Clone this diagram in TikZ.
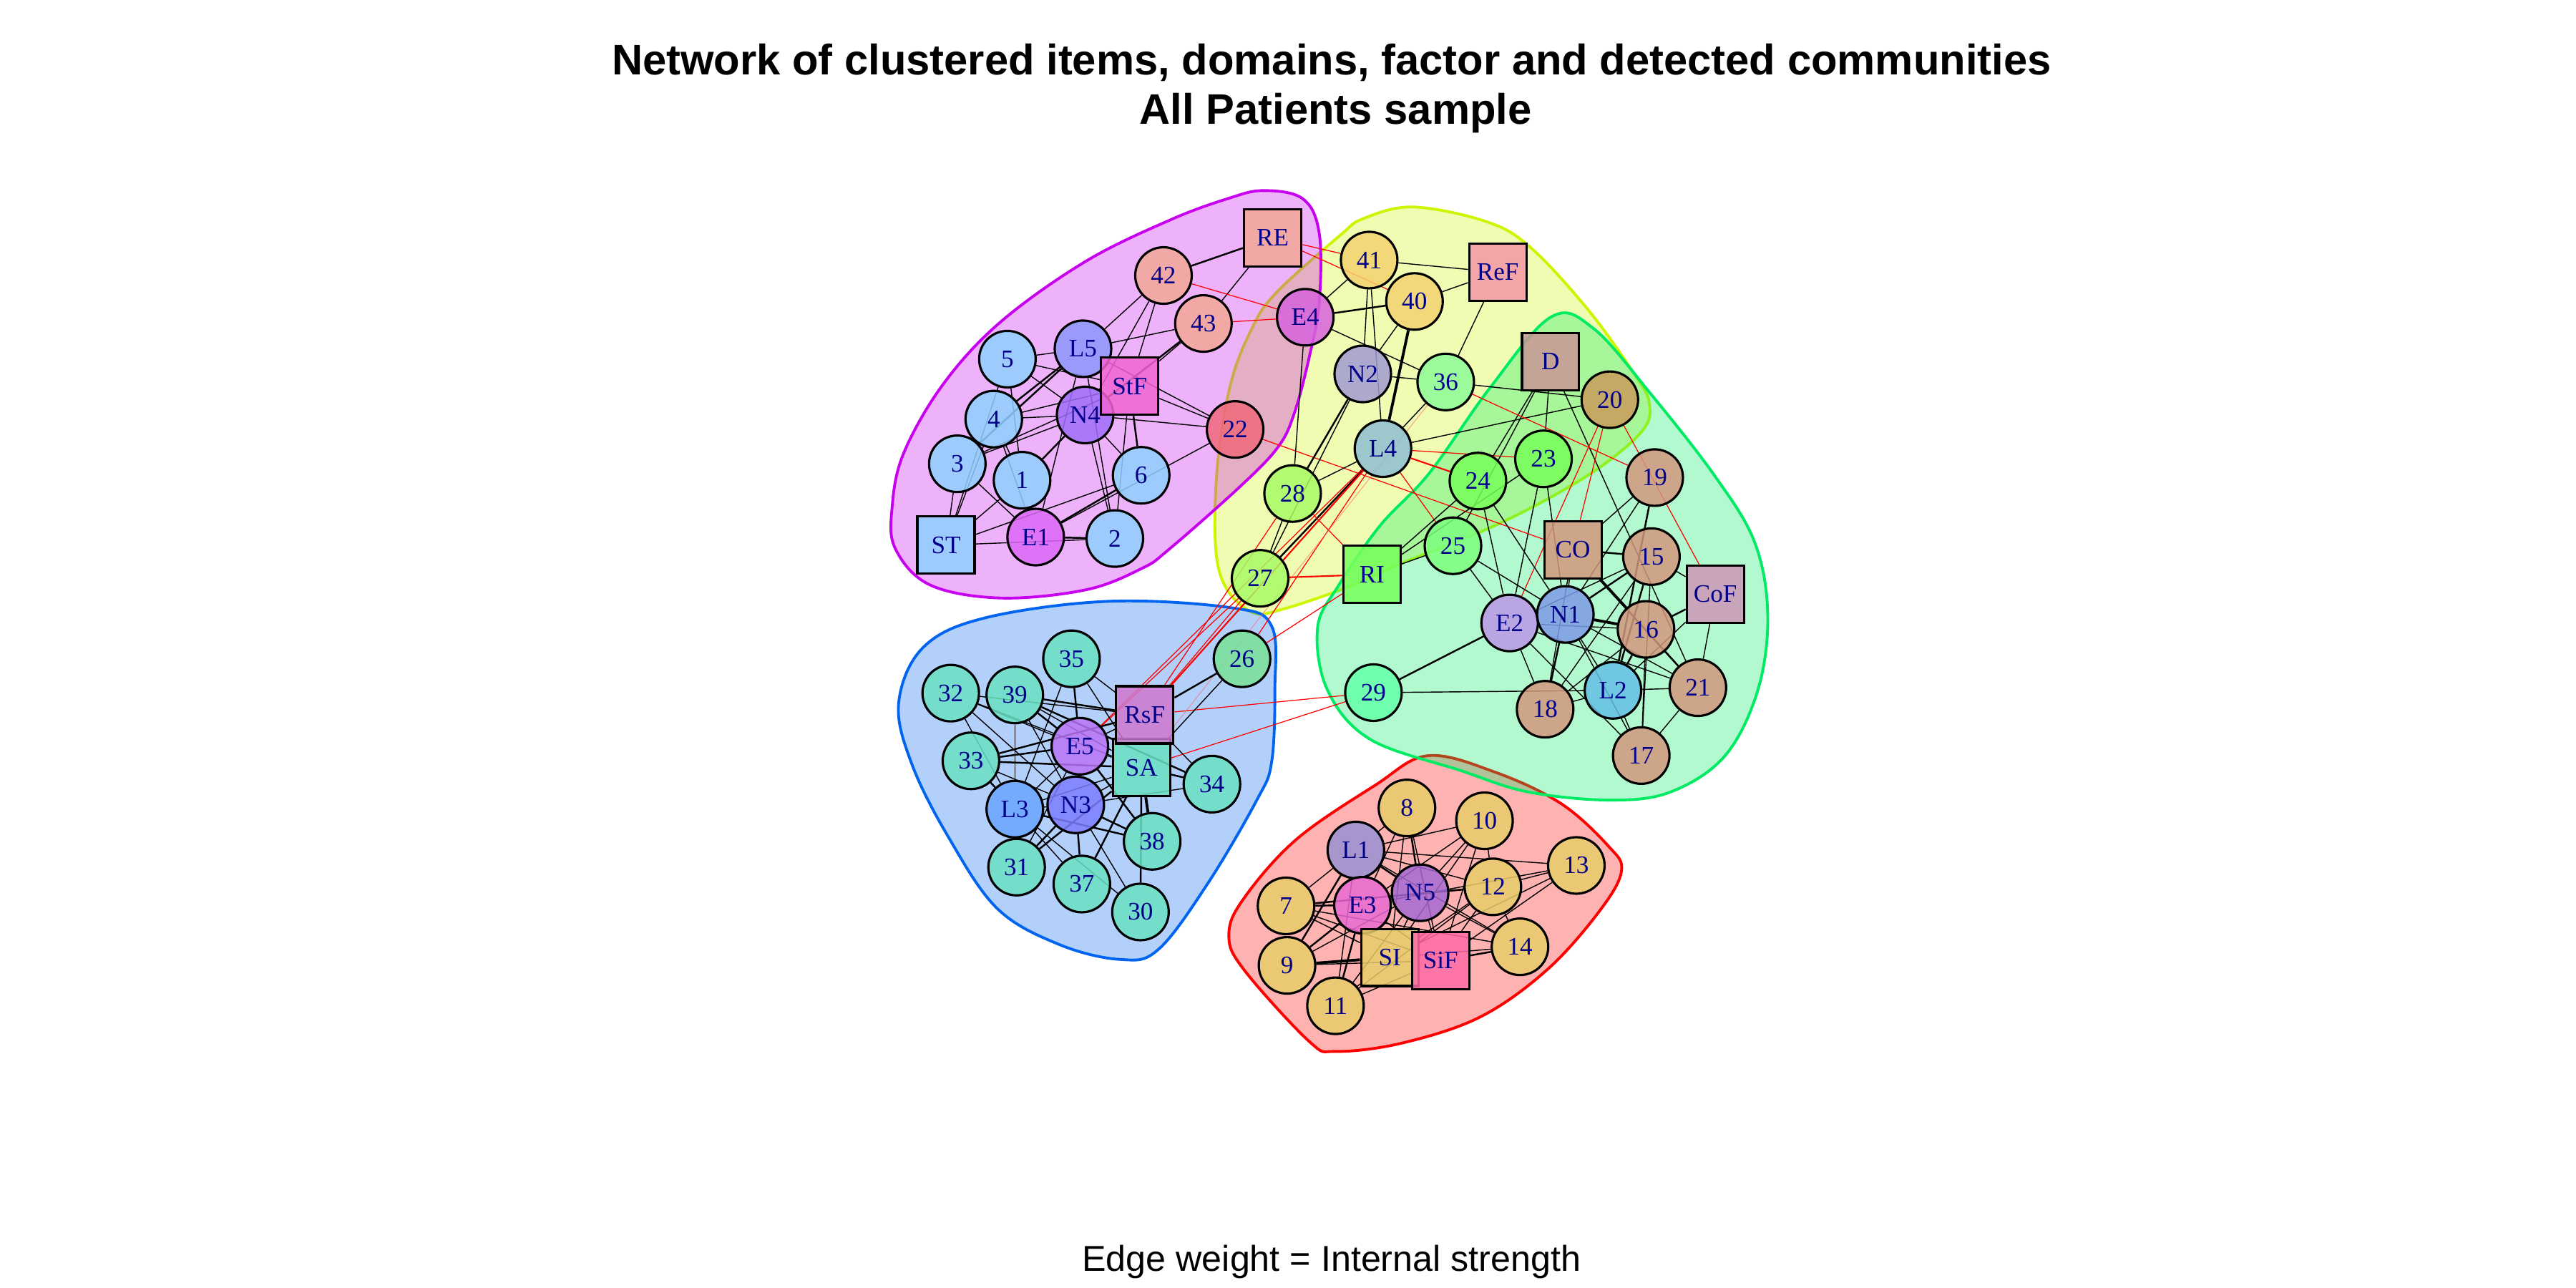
\documentclass[tikz,border=0pt]{standalone}
\usepackage{fontspec}
\setmainfont{Liberation Serif}
\newfontfamily\arialf{Liberation Sans}
\pgfdeclarelayer{hulls}
\pgfdeclarelayer{edges}
\pgfsetlayers{hulls,edges,main}
\definecolor{dblue}{RGB}{0,0,139}
\definecolor{hP}{RGB}{200,0,240}
\definecolor{hY}{RGB}{205,245,0}
\definecolor{hG}{RGB}{0,235,100}
\definecolor{hB}{RGB}{0,100,240}
\definecolor{hR}{RGB}{255,0,0}
\definecolor{cLB}{RGB}{143,208,255}
\definecolor{cE1}{RGB}{221,104,247}
\definecolor{cN4}{RGB}{160,110,250}
\definecolor{cL5}{RGB}{140,150,250}
\definecolor{cStF}{RGB}{240,100,210}
\definecolor{cSal}{RGB}{243,167,150}
\definecolor{c22}{RGB}{240,105,125}
\definecolor{cE4}{RGB}{215,100,220}
\definecolor{cOr}{RGB}{243,210,110}
\definecolor{cReF}{RGB}{245,150,165}
\definecolor{cN2}{RGB}{160,155,210}
\definecolor{c36}{RGB}{140,250,150}
\definecolor{cL4}{RGB}{140,190,210}
\definecolor{cLG}{RGB}{168,250,100}
\definecolor{cG}{RGB}{120,255,90}
\definecolor{c25}{RGB}{125,255,125}
\definecolor{cD}{RGB}{200,150,150}
\definecolor{c20}{RGB}{200,155,90}
\definecolor{cBr}{RGB}{210,150,125}
\definecolor{cCoF}{RGB}{205,150,185}
\definecolor{cN1}{RGB}{125,155,230}
\definecolor{cE2}{RGB}{185,150,230}
\definecolor{cL2}{RGB}{100,190,230}
\definecolor{c29}{RGB}{100,255,170}
\definecolor{cTq}{RGB}{105,225,195}
\definecolor{c26}{RGB}{120,225,150}
\definecolor{cRsF}{RGB}{205,120,205}
\definecolor{cE5}{RGB}{185,115,245}
\definecolor{cL3}{RGB}{105,165,255}
\definecolor{cN3}{RGB}{125,125,255}
\definecolor{cYe}{RGB}{232,205,105}
\definecolor{cL1}{RGB}{150,145,210}
\definecolor{cN5}{RGB}{165,105,210}
\definecolor{cE3}{RGB}{232,105,210}
\definecolor{cSiF}{RGB}{255,105,165}
\begin{document}
\begin{tikzpicture}[x=0.022959cm,y=-0.022959cm,
  cn/.style={circle,draw=black,line width=0.9pt,minimum size=0.79cm,inner sep=0pt,fill opacity=0.85,text opacity=1,text=dblue,font=\fontsize{10}{11}\selectfont},
  sq/.style={rectangle,draw=black,line width=0.9pt,minimum size=0.8cm,inner sep=0pt,fill opacity=0.85,text opacity=1,text=dblue,font=\fontsize{10}{11}\selectfont},
  hull/.style={line width=1.1pt,fill opacity=0.3},
  e/.style={black,line width=0.4pt},
  ee/.style={black,line width=0.7pt},
  eee/.style={black,line width=1.1pt},
  r/.style={red,line width=0.35pt},
  rr/.style={red,line width=0.6pt},
  rl/.style={red!60,line width=0.3pt,opacity=0.6}]
\useasboundingbox (0,0) rectangle (1568,784);
% titles
\node[font=\arialf\bfseries\fontsize{17}{20}\selectfont] (t1) at (810.5,38) {Network of clustered items, domains, factor and detected communities};
\node[font=\arialf\bfseries\fontsize{17}{20}\selectfont] (t2) at (813,69) {All Patients sample};
\node[font=\arialf\fontsize{14.3}{16}\selectfont] (t3) at (810.5,768) {Edge weight = Internal strength};
% hulls
\begin{pgfonlayer}{hulls}
\draw[hull,draw=hR,fill=hR] plot[smooth cycle,tension=0.6] coordinates {(869,460)(910,470)(950,489)(979,515)(987,530)(974,554)(942,590)(901,619)(853,635)(813,640)(797,634)(757,590)(748,569)(757,547)(789,511)(837,478)};
\draw[hull,draw=hY,fill=hY] plot[smooth cycle,tension=0.6] coordinates {(860,126)(905,135)(932,151)(967,189)(995,228)(1004,246)(999,263)(967,289)(914,318)(853,343)(816,359)(780,371)(763,373)(747,359)(740,334)(741,284)(749,234)(762,200)(777,178)(816,143)(830,133)};
\draw[hull,draw=hG,fill=hG] plot[smooth cycle,tension=0.6] coordinates {(944,193)(970,200)(1005,240)(1044,290)(1068,330)(1076,374)(1070,420)(1050,460)(1017,482)(980,487)(930,482)(889,469)(834,450)(808,420)(802,382)(815,356)(840,320)(870,288)(907,236)};
\draw[hull,draw=hP,fill=hP] plot[smooth cycle,tension=0.6] coordinates {(769,116)(793,121)(803,142)(803,184)(797,217)(788,251)(778,272)(755,296)(712,334)(695,346)(661,359)(609,364)(566,356)(545,334)(543,309)(550,276)(574,234)(609,196)(661,159)(712,134)(747,121)};
\draw[hull,draw=hB,fill=hB] plot[smooth cycle,tension=0.6] coordinates {(675,366)(750,370)(774,381)(776,420)(774,464)(765,487)(735,538)(705,578)(682,584)(645,575)(607,553)(577,509)(555,465)(547,428)(562,394)(600,376)};
\end{pgfonlayer}
% nodes
\node[sq,fill=cSal] (nRE) at (774.7,144.7) {RE};
\node[cn,fill=cSal] (n42) at (708.2,167.7) {42};
\node[cn,fill=cSal] (n43) at (732.5,196.9) {43};
\node[cn,fill=cE4] (nE4) at (794.5,193.1) {E4};
\node[cn,fill=cLB] (n5) at (613.2,218.6) {5};
\node[cn,fill=cL5] (nL5) at (659.2,212.3) {L5};
\node[cn,fill=cN4] (nN4) at (660.5,252.6) {N4};
\node[sq,fill=cStF] (nStF) at (687.6,235.1) {StF};
\node[cn,fill=cLB] (n4) at (604.9,255.1) {4};
\node[cn,fill=c22] (n22) at (751.8,261.4) {22};
\node[cn,fill=cLB] (n3) at (582.7,282.3) {3};
\node[cn,fill=cLB] (n1) at (622.1,292.3) {1};
\node[cn,fill=cLB] (n6) at (694.6,289.3) {6};
\node[sq,fill=cLB] (nST) at (575.8,331.8) {ST};
\node[cn,fill=cE1] (nE1) at (630.4,326.9) {E1};
\node[cn,fill=cLB] (n2) at (678.6,327.8) {2};
\node[cn,fill=cOr] (n41) at (833.4,158.3) {41};
\node[sq,fill=cReF] (nReF) at (911.7,165.7) {ReF};
\node[cn,fill=cOr] (n40) at (861.0,183.5) {40};
\node[cn,fill=cN2] (nN2) at (829.5,227.6) {N2};
\node[cn,fill=c36] (n36) at (880.0,232.5) {36};
\node[sq,fill=cD] (nD) at (943.8,220.1) {D};
\node[cn,fill=c20] (n20) at (979.9,243.3) {20};
\node[cn,fill=cL4] (nL4) at (841.8,273.1) {L4};
\node[cn,fill=cLG] (n28) at (786.8,300.4) {28};
\node[cn,fill=cG] (n23) at (939.5,279.3) {23};
\node[cn,fill=cG] (n24) at (899.6,292.8) {24};
\node[cn,fill=cBr] (n19) at (1007.2,290.7) {19};
\node[cn,fill=c25] (n25) at (884.4,332.2) {25};
\node[sq,fill=cBr] (nCO) at (957.4,334.6) {CO};
\node[cn,fill=cBr] (n15) at (1005.2,338.8) {15};
\node[sq,fill=cG] (nRI) at (835.1,349.7) {RI};
\node[cn,fill=cLG] (n27) at (767.0,352.0) {27};
\node[sq,fill=cCoF] (nCoF) at (1044.1,361.7) {CoF};
\node[cn,fill=cE2] (nE2) at (918.9,379.2) {E2};
\node[cn,fill=cN1] (nN1) at (952.8,374.0) {N1};
\node[cn,fill=cBr] (n16) at (1001.9,383.1) {16};
\node[cn,fill=c29] (n29) at (836.0,421.6) {29};
\node[cn,fill=cL2] (nL2) at (981.8,420.2) {L2};
\node[cn,fill=cBr] (n21) at (1033.5,418.6) {21};
\node[cn,fill=cBr] (n18) at (940.5,431.7) {18};
\node[cn,fill=cBr] (n17) at (999.0,459.9) {17};
\node[cn,fill=cTq] (n35) at (652.2,401.0) {35};
\node[cn,fill=c26] (n26) at (756.0,401.0) {26};
\node[cn,fill=cTq] (n32) at (578.7,421.9) {32};
\node[cn,fill=cTq] (n39) at (617.7,423.0) {39};
\node[cn,fill=cE5] (nE5) at (657.3,454.2) {E5};
\node[cn,fill=cTq] (n33) at (591.0,463.1) {33};
\node[sq,fill=cTq] (nSA) at (694.8,467.2) {SA};
\node[sq,fill=cRsF] (nRsF) at (696.8,435.1) {RsF};
\node[cn,fill=cTq] (n34) at (737.7,477.3) {34};
\node[cn,fill=cL3] (nL3) at (617.7,492.5) {L3};
\node[cn,fill=cN3] (nN3) at (654.8,489.9) {N3};
\node[cn,fill=cTq] (n38) at (701.3,512.1) {38};
\node[cn,fill=cTq] (n31) at (618.8,527.8) {31};
\node[cn,fill=cTq] (n37) at (658.5,538.1) {37};
\node[cn,fill=cTq] (n30) at (694.2,555.1) {30};
\node[cn,fill=cYe] (n8) at (856.4,491.8) {8};
\node[cn,fill=cYe] (n10) at (903.6,499.6) {10};
\node[cn,fill=cL1] (nL1) at (825.3,517.4) {L1};
\node[cn,fill=cYe] (n13) at (959.5,526.8) {13};
\node[cn,fill=cN5] (nN5) at (864.4,543.4) {N5};
\node[cn,fill=cYe] (n12) at (908.7,539.8) {12};
\node[cn,fill=cE3] (nE3) at (829.3,551.0) {E3};
\node[cn,fill=cYe] (n7) at (782.8,551.4) {7};
\node[cn,fill=cYe] (n14) at (925.2,576.3) {14};
\node[sq,fill=cYe] (nSI) at (845.9,582.8) {SI};
\node[sq,fill=cSiF] (nSiF) at (876.9,584.7) {SiF};
\node[cn,fill=cYe] (n9) at (783.4,587.6) {9};
\node[cn,fill=cYe] (n11) at (812.9,612.2) {11};
% edges
\begin{pgfonlayer}{edges}
\foreach \a/\b/\s in {
 RE/42/ee, RE/43/e, RE/41/r, RE/40/r, 42/E4/r, 43/E4/r, 42/L5/e, 42/N4/e, 42/StF/e,
 43/L5/e, 43/N4/ee, 43/StF/e, 5/L5/e, 5/StF/e, 5/N4/e, 5/1/e, 5/ST/e,
 L5/4/ee, L5/3/ee, L5/E1/e, L5/2/e, L5/22/e, StF/4/e, StF/3/e, StF/22/e, StF/6/ee, StF/2/e,
 N4/4/e, N4/3/e, N4/1/ee, N4/6/e, N4/2/e, N4/22/e, 4/ST/e, 4/1/e, 4/E1/e, 3/ST/e, 3/E1/e,
 1/ST/e, 1/E1/e, 6/ST/e, 6/E1/ee, 22/E1/e, E1/2/ee, ST/2/e, 22/CO/r,
 E4/28/e, E4/41/e, E4/40/ee, E4/36/e,
 41/ReF/e, 40/ReF/e, 41/N2/e, 41/L4/e, 40/N2/e, 40/L4/eee, ReF/36/e, N2/36/e, 36/20/e,
 N2/28/ee, N2/27/e, L4/28/e, L4/27/ee, L4/36/e, L4/20/e, L4/23/r, L4/24/rr, L4/25/r,
 28/RI/r, 28/27/e, 27/RI/rr, D/24/e, D/25/e, D/23/e, D/21/e, 36/19/r, 20/CO/r, 20/E2/r, 20/CoF/r,
 24/RI/e, 23/RI/e, 25/RI/e, 24/E2/e, 24/N1/e, 23/E2/e, 23/N1/e, 25/E2/e, 25/N1/e,
 CO/15/ee, CO/19/e, CO/N1/e, CO/16/eee, CO/18/e, CO/21/ee, 19/N1/e, 19/L2/ee,
 15/N1/ee, 15/E2/e, 15/L2/ee, 15/18/e, 15/CoF/e, 15/17/e, CoF/16/ee, CoF/21/e, CoF/L2/e,
 N1/E2/ee, N1/16/eee, N1/18/ee, N1/L2/e, N1/21/e, N1/17/e, E2/29/ee, E2/16/e, E2/18/e,
 E2/17/e, E2/21/e, 16/21/e, 16/17/e, 16/L2/ee, 16/18/e, L2/21/e, L2/18/e, L2/17/e,
 29/L2/e, 29/RsF/r, 29/SA/r, 21/17/e,
 28/RsF/r, L4/RsF/rr, L4/E5/r, 27/RsF/r, 27/E5/r, RI/26/r, 26/L4/r, 36/SA/rl,
 35/RsF/e, 35/E5/ee, 35/SA/e, 35/L3/e, 32/RsF/e, 39/RsF/ee, 32/E5/e, 32/SA/e, 32/N3/e,
 32/L3/e, 39/E5/ee, 39/34/ee, 39/L3/e, 39/N3/e, 39/SA/e, 33/RsF/ee, 33/E5/ee, 33/SA/ee,
 33/L3/ee, 33/N3/e, E5/RsF/e, E5/SA/e, E5/N3/eee, E5/L3/e, E5/31/e, E5/38/ee,
 RsF/26/ee, RsF/34/e, SA/26/e, SA/N3/e, SA/L3/e, SA/34/ee, SA/38/eee, SA/30/ee, SA/31/ee,
 SA/37/ee, L3/N3/e, L3/38/ee, L3/31/e, L3/37/e, L3/30/e, N3/31/ee, N3/37/ee, N3/38/ee,
 N3/30/e, N3/34/e,
 8/L1/e, L1/10/e, 8/E3/e, 8/N5/ee, 8/SI/e, 8/SiF/e, L1/13/e, L1/N5/ee, L1/12/e, L1/7/e,
 L1/9/ee, L1/11/e, 10/N5/e, 10/E3/e, 10/SiF/e, 10/SI/e, 10/12/e, 13/12/e, 13/E3/e,
 13/SiF/e, 13/SI/e, 12/N5/e, 12/7/ee, 12/14/e, 12/SiF/e, 12/SI/e, 12/11/e, 7/E3/ee,
 7/SI/e, 7/SiF/e, 7/14/e, 9/E3/ee, 9/N5/e, 9/SI/eee, 9/SiF/e, 11/E3/ee, 11/SI/e,
 11/SiF/e, 11/N5/e, 14/N5/e, 14/SiF/ee, 14/SI/e, 14/L1/e, E3/N5/e, E3/SI/e, E3/SiF/e,
 N5/SI/e, N5/SiF/e}
 \draw[\s] (n\a) -- (n\b);
\end{pgfonlayer}
\end{tikzpicture}
\end{document}
